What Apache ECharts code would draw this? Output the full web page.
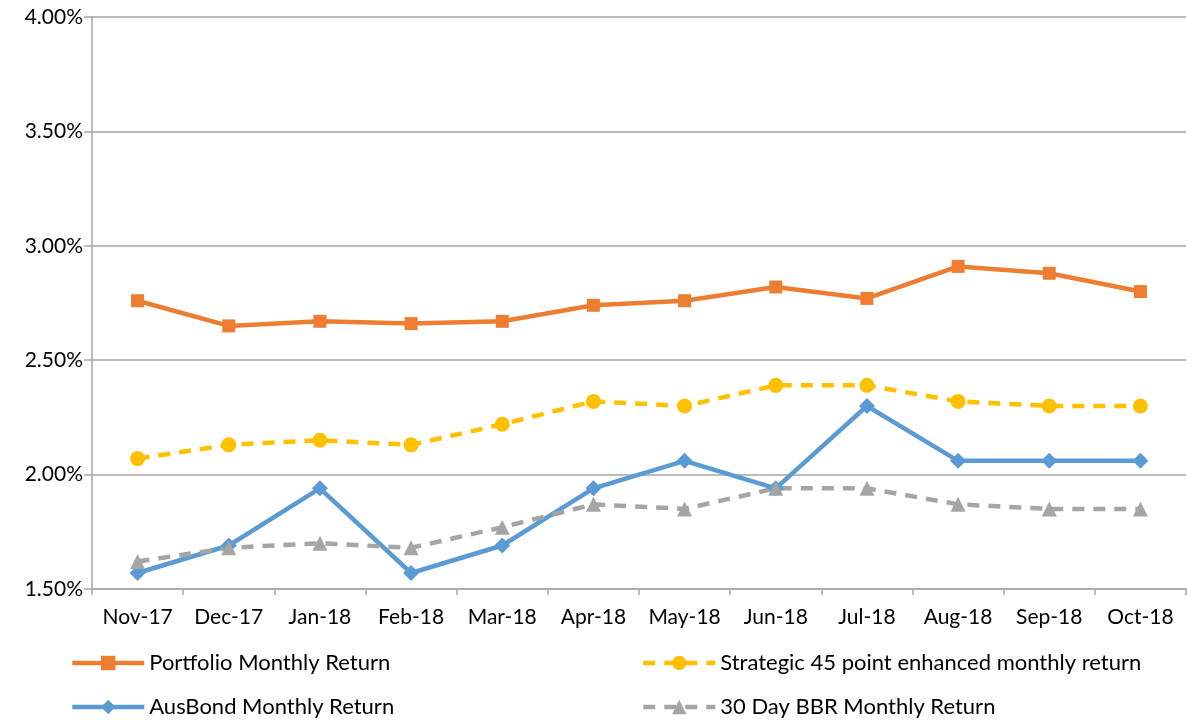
<!DOCTYPE html>
<html>
<head>
<meta charset="utf-8">
<script src="https://cdn.jsdelivr.net/npm/echarts@6/dist/echarts.min.js"></script>
<style>
  html, body { margin: 0; padding: 0; background: #fff; }
  #chart { width: 1187px; height: 720px; }
</style>
</head>
<body>
<div id="chart"></div>
<script>
const months = ['Nov-17', 'Dec-17', 'Jan-18', 'Feb-18', 'Mar-18', 'Apr-18', 'May-18', 'Jun-18', 'Jul-18', 'Aug-18', 'Sep-18', 'Oct-18']
const portfolio = [2.76, 2.65, 2.67, 2.66, 2.67, 2.74, 2.76, 2.82, 2.77, 2.91, 2.88, 2.80]
const strategic = [2.07, 2.13, 2.15, 2.13, 2.22, 2.32, 2.30, 2.39, 2.39, 2.32, 2.30, 2.30]
const ausBond = [1.57, 1.69, 1.94, 1.57, 1.69, 1.94, 2.06, 1.94, 2.30, 2.06, 2.06, 2.06]
const bbr = [1.62, 1.68, 1.70, 1.68, 1.77, 1.87, 1.85, 1.94, 1.94, 1.87, 1.85, 1.85]

const font = 'Lato, "Open Sans", sans-serif'
const chart = echarts.init(document.getElementById('chart'))

// vertical legends, one per column; height set so they never wrap into a second column
const legendBase = {
  orient: 'vertical',
  top: 647,
  height: 90,
  itemWidth: 72,
  itemHeight: 18,
  itemGap: 22,
  lineStyle: { width: 4.5 },
  textStyle: { fontFamily: font, fontSize: 22, color: '#000' }
}

chart.setOption({
  animation: false,
  grid: { left: 92, right: 1, top: 17, bottom: 131 },
  legend: [
    { ...legendBase, left: 65, data: ['Portfolio Monthly Return', 'AusBond Monthly Return'] },
    { ...legendBase, left: 636, data: ['Strategic 45 point enhanced monthly return', '30 Day BBR Monthly Return'] }
  ],
  xAxis: {
    type: 'category',
    data: months,
    boundaryGap: true,
    axisLine: { lineStyle: { color: '#a6a6a6', width: 1.5 } },
    axisTick: { show: true, length: 6, lineStyle: { color: '#a6a6a6', width: 1.5 } },
    axisLabel: { fontFamily: font, fontSize: 21, color: '#000', margin: 18, interval: 0 }
  },
  yAxis: {
    type: 'value',
    min: 1.5,
    max: 4.0,
    interval: 0.5,
    axisLine: { show: true, lineStyle: { color: '#a6a6a6', width: 1.5 } },
    axisTick: { show: true, length: 8, lineStyle: { color: '#a6a6a6', width: 1.5 } },
    splitLine: { lineStyle: { color: '#a6a6a6', width: 1.5 } },
    axisLabel: {
      fontFamily: font, fontSize: 21, color: '#000', margin: 9,
      formatter: v => v.toFixed(2) + '%'
    }
  },
  series: [
    {
      name: 'Portfolio Monthly Return', type: 'line', data: portfolio,
      symbol: 'rect', symbolSize: 13,
      itemStyle: { color: '#ed7d31' },
      lineStyle: { color: '#ed7d31', width: 4.5 }
    },
    {
      name: 'Strategic 45 point enhanced monthly return', type: 'line', data: strategic,
      symbol: 'circle', symbolSize: 15,
      itemStyle: { color: '#ffc000' },
      lineStyle: { color: '#ffc000', width: 4.5, type: [12, 9] }
    },
    {
      name: 'AusBond Monthly Return', type: 'line', data: ausBond,
      symbol: 'diamond', symbolSize: 16,
      itemStyle: { color: '#5b9bd5' },
      lineStyle: { color: '#5b9bd5', width: 4.5 }
    },
    {
      name: '30 Day BBR Monthly Return', type: 'line', data: bbr,
      symbol: 'triangle', symbolSize: 15,
      itemStyle: { color: '#a5a5a5' },
      lineStyle: { color: '#a5a5a5', width: 4.5, type: [12, 9] }
    }
  ]
})
</script>
</body>
</html>
